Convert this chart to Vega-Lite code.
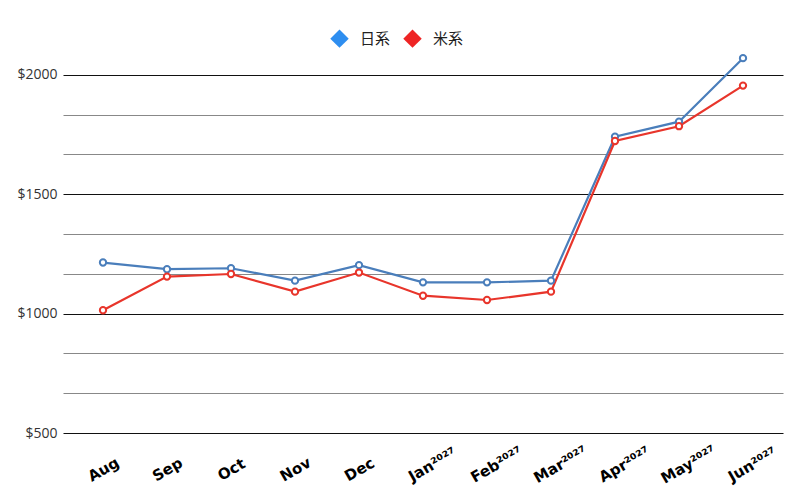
{
  "$schema": "https://vega.github.io/schema/vega-lite/v6.json",
  "width": 720,
  "height": 382,
  "autosize": {"type": "none"},
  "padding": {"left": 63, "top": 51, "right": 17, "bottom": 67},
  "background": "white",
  "config": {"view": {"stroke": null}},
  "data": {
    "values": [
      {"month": "Aug", "series": "日系", "price": 1214},
      {"month": "Sep", "series": "日系", "price": 1186},
      {"month": "Oct", "series": "日系", "price": 1190},
      {"month": "Nov", "series": "日系", "price": 1138},
      {"month": "Dec", "series": "日系", "price": 1203},
      {"month": "Jan", "series": "日系", "price": 1131},
      {"month": "Feb", "series": "日系", "price": 1131},
      {"month": "Mar", "series": "日系", "price": 1138},
      {"month": "Apr", "series": "日系", "price": 1741},
      {"month": "May", "series": "日系", "price": 1804},
      {"month": "Jun", "series": "日系", "price": 2070},
      {"month": "Aug", "series": "米系", "price": 1014},
      {"month": "Sep", "series": "米系", "price": 1155},
      {"month": "Oct", "series": "米系", "price": 1166},
      {"month": "Nov", "series": "米系", "price": 1092},
      {"month": "Dec", "series": "米系", "price": 1172},
      {"month": "Jan", "series": "米系", "price": 1075},
      {"month": "Feb", "series": "米系", "price": 1057},
      {"month": "Mar", "series": "米系", "price": 1092},
      {"month": "Apr", "series": "米系", "price": 1723},
      {"month": "May", "series": "米系", "price": 1785},
      {"month": "Jun", "series": "米系", "price": 1955}
    ]
  },
  "encoding": {
    "x": {
      "field": "month",
      "type": "ordinal",
      "sort": ["Aug", "Sep", "Oct", "Nov", "Dec", "Jan", "Feb", "Mar", "Apr", "May", "Jun"],
      "scale": {"type": "point", "padding": 0.625},
      "axis": {
        "title": null,
        "domain": false,
        "ticks": false,
        "grid": false,
        "labelAngle": -30,
        "labelAlign": "center",
        "labelBaseline": "middle",
        "labelPadding": {"condition": {"test": "indexof(['Jan','Feb','Mar','Apr','May','Jun'], datum.value) >= 0", "value": 31}, "value": 36},
        "labelOffset": {"condition": {"test": "indexof(['Jan','Feb','Mar','Apr','May','Jun'], datum.value) >= 0", "value": 9}, "value": 0},
        "labelFont": "DejaVu Sans",
        "labelFontWeight": "bold",
        "labelFontSize": 15,
        "labelColor": "#000",
        "labelExpr": "indexof(['Jan','Feb','Mar','Apr','May','Jun'], datum.value) >= 0 ? datum.value + '²⁰²⁷' : datum.value"
      }
    },
    "y": {
      "field": "price",
      "type": "quantitative",
      "scale": {"domain": [500, 2100], "nice": false, "zero": false},
      "axis": {
        "title": null,
        "domain": false,
        "ticks": false,
        "grid": true,
        "values": [500, 666.6667, 833.3333, 1000, 1166.6667, 1333.3333, 1500, 1666.6667, 1833.3333, 2000],
        "gridColor": {"condition": {"test": "abs(datum.value % 500) < 0.01", "value": "#111111"}, "value": "#888888"},
        "gridWidth": 1,
        "labelExpr": "abs(datum.value % 500) < 0.01 ? '$' + format(datum.value, 'd') : ''",
        "labelFont": "Open Sans",
        "labelFontSize": 14,
        "labelColor": "#333333",
        "labelPadding": 6
      }
    },
    "color": {
      "field": "series",
      "type": "nominal",
      "scale": {"domain": ["日系", "米系"], "range": ["#4a7ebb", "#e8352b"]},
      "legend": {
        "title": null,
        "orient": "none",
        "legendX": 267,
        "legendY": -22,
        "direction": "horizontal",
        "symbolType": "diamond",
        "symbolSize": 340,
        "symbolStrokeWidth": 0,
        "labelFont": "Noto Sans CJK JP",
        "labelFontSize": 15,
        "labelColor": "#222222",
        "labelOffset": 11,
        "columnPadding": 12,
        "encode": {
          "symbols": {
            "update": {
              "fill": {"signal": "datum.value === '日系' ? '#2e8ef0' : '#ee2424'"},
              "stroke": {"value": "transparent"}
            }
          }
        }
      }
    }
  },
  "layer": [
    {"mark": {"type": "line", "strokeWidth": 2.2}},
    {"mark": {"type": "point", "filled": false, "fill": "white", "strokeWidth": 2, "size": 40, "opacity": 1}}
  ]
}
